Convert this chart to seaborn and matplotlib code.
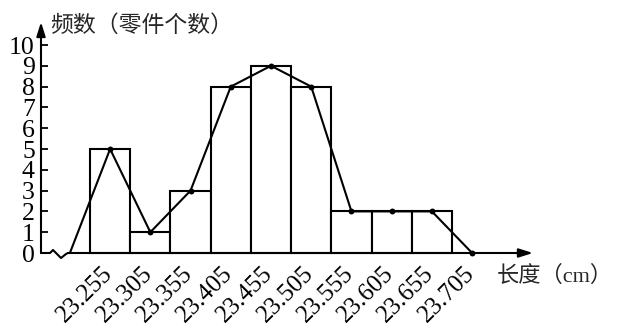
import matplotlib
matplotlib.use("Agg")
import matplotlib.pyplot as plt
from matplotlib.transforms import ScaledTranslation
import numpy as np
import pandas as pd
import seaborn as sns

# ---- data ----
bin_edges = [23.255, 23.305, 23.355, 23.405, 23.455, 23.505, 23.555, 23.605, 23.655, 23.705]
bin_mids = [23.28, 23.33, 23.38, 23.43, 23.48, 23.53, 23.58, 23.63, 23.68]
counts = [5, 1, 3, 8, 9, 8, 2, 2, 2]
polygon_x = [23.23, 23.28, 23.33, 23.38, 23.43, 23.48, 23.53, 23.58, 23.63, 23.68, 23.73]
polygon_y = [0, 5, 1, 3, 8, 9, 8, 2, 2, 2, 0]
x_tick_labels = ["23.255", "23.305", "23.355", "23.405", "23.455",
                 "23.505", "23.555", "23.605", "23.655", "23.705"]
y_ticks = [0, 1, 2, 3, 4, 5, 6, 7, 8, 9, 10]
y_label = "频数（零件个数）"
x_label = "长度（cm）"

sns.set_theme(style="white")
plt.rcParams["font.family"] = ["Liberation Serif", "Noto Sans CJK SC"]

W, H = 621, 331
fig = plt.figure(figsize=(W / 100, H / 100), dpi=100)
fig.patch.set_facecolor("white")

# pixel geometry of plotting area
px_axis_x = 41      # y axis position
px_right = 540
px_zero = 253       # y=0 pixel row
px_bottom = 258
px_top = 18
x_per_px = 0.45 / 362.0
y_per_px = 10 / 208.0

x0 = bin_edges[0] - (90 - px_axis_x) * x_per_px
x1 = bin_edges[0] + (px_right - 90) * x_per_px
ylo = -(px_bottom - px_zero) * y_per_px
yhi = (px_zero - px_top) * y_per_px

ax = fig.add_axes([px_axis_x / W, 1 - px_bottom / H,
                   (px_right - px_axis_x) / W, (px_bottom - px_top) / H])
ax.set_facecolor("white")

df = pd.DataFrame({"length": bin_mids, "count": counts})
sns.histplot(data=df, x="length", weights="count", bins=bin_edges,
             color="white", edgecolor="black", linewidth=1.5, alpha=1,
             ax=ax, zorder=2)
sns.lineplot(x=polygon_x, y=polygon_y, color="black", linewidth=1.5,
             sort=False, ax=ax, zorder=3)
sns.scatterplot(x=polygon_x[1:], y=polygon_y[1:], color="black", s=18,
                edgecolor="black", linewidth=0, ax=ax, zorder=4)

ax.set_xlim(x0, x1)
ax.set_ylim(ylo, yhi)
for s in ax.spines.values():
    s.set_visible(False)
ax.grid(False)
ax.set_xlabel("")
ax.set_ylabel("")

# y axis with arrow
ax.annotate("", xy=(x0, (px_zero - 22) * y_per_px), xytext=(x0, 0),
            arrowprops=dict(arrowstyle="-|>,head_length=0.7,head_width=0.22",
                            color="black", lw=1.5, shrinkA=0, shrinkB=0),
            annotation_clip=False)
# x axis with break zigzag and arrow
zx = np.array([0, 9, 12, 20, 25, 27]) * x_per_px + x0
zy = -np.array([0, 0, -3, 5, 1, 0]) * y_per_px
ax.plot(zx, zy, color="black", lw=1.5, clip_on=False, zorder=1)
ax.annotate("", xy=(bin_edges[0] + (533 - 90) * x_per_px, 0), xytext=(zx[-1], 0),
            arrowprops=dict(arrowstyle="-|>,head_length=0.7,head_width=0.22",
                            color="black", lw=1.5, shrinkA=0, shrinkB=0),
            annotation_clip=False)

ax.set_yticks(y_ticks)
ax.set_yticklabels([str(v) for v in y_ticks])
ax.tick_params(axis="y", direction="in", length=5, width=1.3, pad=4.5,
               labelsize=18.5, colors="black", left=True)

ax.set_xticks(bin_edges)
ax.set_xticklabels(x_tick_labels, rotation=45, ha="right", va="top",
                   rotation_mode="anchor")
ax.tick_params(axis="x", length=0, pad=0, labelsize=18, colors="black")
offset = ScaledTranslation(11 / 100, -4 / 100, fig.dpi_scale_trans)
for lab in ax.get_xticklabels():
    lab.set_transform(lab.get_transform() + offset)

fig.text(50 / W, 1 - 26 / H, y_label, fontsize=16.5, ha="left", va="center")
fig.text(497 / W, 1 - 276 / H, x_label, fontsize=16, ha="left", va="center")

fig.savefig("out.png", dpi=100, facecolor="white")
